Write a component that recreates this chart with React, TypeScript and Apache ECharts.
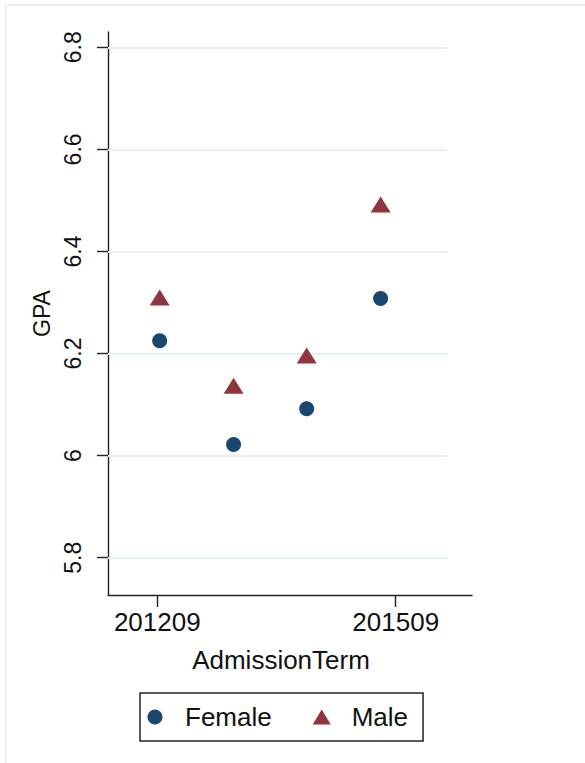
import React, { useEffect, useRef } from "react";
import * as echarts from "echarts";

// Admission term positions (x)
const termX = [201212, 201305, 201397, 201490];
const femaleGPA = [6.225, 6.022, 6.092, 6.308];
const maleGPA = [6.31, 6.137, 6.196, 6.492];
const xTicks = [201209, 201509];
const yTicks = [5.8, 6.0, 6.2, 6.4, 6.6, 6.8];

const X_MIN = 201147;
const X_MAX = 201605;
const GRID_END = 201574;
const Y_MIN = 5.727;
const Y_MAX = 6.83;

const FONT = "'Liberation Sans', Arial, sans-serif";
const NAVY = "#1a476f";
const MAROON = "#90353b";
const GRIDC = "#e6eff1";
const AXISC = "#222";

export default function App() {
  const ref = useRef<HTMLDivElement>(null);
  useEffect(() => {
    if (!ref.current) return;
    const chart = echarts.init(ref.current, null, { renderer: "svg" });
    const option: any = {
      animation: false,
      backgroundColor: "#ffffff",
      textStyle: { fontFamily: FONT },
      grid: { left: 108, right: 113, top: 32, bottom: 168, containLabel: false },
      graphic: [
        {
          type: "rect",
          shape: { x: 6, y: 5, width: 620, height: 800 },
          style: { fill: "none", stroke: "#e2ebef", lineWidth: 1.5 },
          silent: true,
          z: -1,
        },
      ],
      xAxis: {
        type: "value",
        min: X_MIN,
        max: X_MAX,
        name: "AdmissionTerm",
        nameLocation: "middle",
        nameGap: 52,
        nameTextStyle: { fontSize: 26, color: "#111", fontFamily: FONT, padding: [0, 18, 0, 0] },
        axisLine: { show: true, onZero: false, lineStyle: { color: AXISC, width: 1.4 } },
        axisTick: { show: true, length: 12, customValues: xTicks, lineStyle: { color: AXISC, width: 1.4 } },
        axisLabel: {
          customValues: xTicks,
          margin: 14,
          fontSize: 26,
          color: "#111",
          fontFamily: FONT,
          formatter: (v: number) => String(Math.round(v)),
        },
        splitLine: { show: false },
      },
      yAxis: {
        type: "value",
        min: Y_MIN,
        max: Y_MAX,
        name: "GPA",
        nameLocation: "middle",
        nameGap: 52,
        nameRotate: 90,
        nameTextStyle: { fontSize: 23, color: "#111", fontFamily: FONT },
        axisLine: { show: true, onZero: false, lineStyle: { color: AXISC, width: 1.4 } },
        axisTick: { show: true, length: 11, customValues: yTicks, lineStyle: { color: AXISC, width: 1.4 } },
        axisLabel: {
          customValues: yTicks,
          rotate: 90,
          margin: 24,
          fontSize: 23,
          color: "#111",
          fontFamily: FONT,
          formatter: (v: number) => String(Number(v.toFixed(1))),
        },
        splitLine: { show: false },
      },
      legend: {
        left: 140,
        top: 693,
        orient: "horizontal",
        padding: [11, 15, 11, 7.5],
        itemWidth: 18,
        itemHeight: 15,
        itemGap: 41,
        borderColor: "#222",
        borderWidth: 1.5,
        textStyle: { fontSize: 26, color: "#111", fontFamily: FONT, padding: [0, 0, 0, 16] },
        data: [
          { name: "Female", icon: "circle", itemStyle: { color: NAVY, opacity: 1 } },
          { name: "Male", icon: "triangle", itemStyle: { color: MAROON, opacity: 1 } },
        ],
      },
      series: [
        {
          type: "line",
          name: "grid",
          data: [],
          silent: true,
          z: 1,
          markLine: {
            z: 1,
            silent: true,
            symbol: ["none", "none"],
            label: { show: false },
            emphasis: { disabled: true },
            lineStyle: { color: GRIDC, width: 2, type: "solid", opacity: 1 },
            data: yTicks.map((v) => [
              { coord: [X_MIN, v] },
              { coord: [GRID_END, v] },
            ]),
          },
        },
        {
          type: "scatter",
          name: "Female",
          symbol: "circle",
          symbolSize: 15,
          itemStyle: { color: NAVY, opacity: 1 },
          z: 10,
          data: termX.map((x, i) => [x, femaleGPA[i]]),
        },
        {
          type: "scatter",
          name: "Male",
          symbol: "triangle",
          symbolSize: [20, 16],
          itemStyle: { color: MAROON, opacity: 1 },
          z: 10,
          data: termX.map((x, i) => [x, maleGPA[i]]),
        },
      ],
    };
    chart.setOption(option);
    return () => chart.dispose();
  }, []);
  return (
    <div
      ref={ref}
      style={{ position: "absolute", left: 0, top: 0, width: 585, height: 763 }}
    />
  );
}
